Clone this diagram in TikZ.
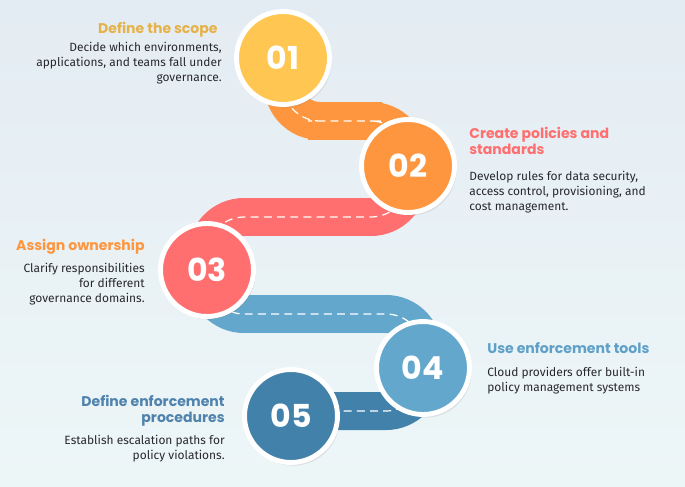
\documentclass[tikz,border=0pt]{standalone}
\usepackage{fontspec}
\setmainfont{Fira Sans}
\newfontfamily\headfont{Poppins}
\usetikzlibrary{backgrounds,shadows}
\definecolor{bgTop}{RGB}{228,236,243}
\definecolor{bgBot}{RGB}{237,246,247}
\definecolor{bodyGray}{RGB}{40,40,44}
\definecolor{stepYellow}{RGB}{255,199,81}
\definecolor{stepOrange}{RGB}{254,150,63}
\definecolor{stepRed}{RGB}{255,111,111}
\definecolor{stepBlue}{RGB}{99,168,204}
\definecolor{stepNavy}{RGB}{66,129,170}
\definecolor{headGold}{RGB}{229,178,74}
\definecolor{headNavy}{RGB}{79,130,173}
\definecolor{headBlue}{RGB}{95,160,200}
\tikzset{
  stepdot/.style={circle,draw=white,line width=2.8pt,fill=#1,minimum size=1.86cm,inner sep=0pt,
    text=white,font=\headfont\bfseries\fontsize{18}{18}\selectfont,
    drop shadow={shadow xshift=1.2pt,shadow yshift=-1.8pt,opacity=.18}},
  road/.style={draw=#1,line width=0.76cm,rounded corners=0.74cm,
    postaction={draw=white,line width=0.7pt,dash pattern=on 4.5pt off 3pt}},
  head/.style={font=\headfont\bfseries\fontsize{8}{9.2}\selectfont,text=#1,inner sep=0pt},
  body/.style={font=\fontsize{6.8}{8.6}\selectfont,text=bodyGray,inner sep=0pt}
}
\begin{document}
\begin{tikzpicture}[x=0.02cm,y=-0.02cm]
\useasboundingbox (0,0) rectangle (685,486);
% steps
\node[stepdot=stepYellow] (s1) at (283,58) {01};
\node[stepdot=stepOrange] (s2) at (408,166) {02};
\node[stepdot=stepRed] (s3) at (207,270) {03};
\node[stepdot=stepBlue] (s4) at (423,368) {04};
\node[stepdot=stepNavy] (s5) at (291,416) {05};
% road bends
\coordinate (m12) at (345,121);
\coordinate (m23) at (300,217);
\coordinate (m34) at (315,314);
\coordinate (m45) at (350,411);
\begin{scope}[on background layer]
\fill[top color=bgTop,bottom color=bgBot] (0,0) rectangle (685,486);
\draw[road=stepOrange] (s1.center) |- (m12) -| (s2.center);
\draw[road=stepRed] (s2.center) |- (m23) -| (s3.center);
\draw[road=stepBlue] (s3.center) |- (m34) -| (s4.center);
\draw[road=stepNavy] (s5.center |- m45) -| (s4.center);
\end{scope}
% texts
\node[head=headGold,anchor=north east] (h1) at (218,22) {Define the scope};
\node[body,anchor=north east,align=right] (b1) at (222,42) {Decide which environments,\\applications, and teams fall under\\governance.};
\node[head=stepRed,anchor=north west,align=left] (h2) at (469,127) {Create policies and\\standards};
\node[body,anchor=north west,align=left] (b2) at (469,171) {Develop rules for data security,\\access control, provisioning, and\\cost management.};
\node[head=stepOrange,anchor=north east] (h3) at (145,239) {Assign ownership};
\node[body,anchor=north east,align=right] (b3) at (145,263) {Clarify responsibilities\\for different\\governance domains.};
\node[head=headBlue,anchor=north west] (h4) at (487,342) {Use enforcement tools};
\node[body,anchor=north west,align=left] (b4) at (487,366.5) {Cloud providers offer built-in\\policy management systems};
\node[head=headNavy,anchor=north east,align=right] (h5) at (225,395) {Define enforcement\\procedures};
\node[body,anchor=north east,align=right] (b5) at (225,435) {Establish escalation paths for\\policy violations.};
\end{tikzpicture}
\end{document}
